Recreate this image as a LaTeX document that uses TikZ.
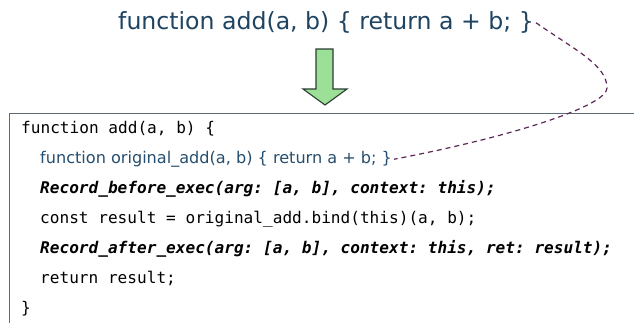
\documentclass[tikz,border=0pt]{standalone}
\usepackage{fontspec}
\setmainfont{DejaVu Sans}
\setmonofont{DejaVu Sans Mono}
\newfontfamily\handfont{DejaVu Sans}
\definecolor{titleblue}{RGB}{31,68,98}
\definecolor{innerblue}{RGB}{38,78,110}
\definecolor{linkpurple}{RGB}{92,40,90}
\definecolor{boxgrey}{RGB}{92,108,120}
\definecolor{arrowgreen}{RGB}{155,224,150}
\definecolor{arrowedge}{RGB}{42,62,52}
\tikzset{
  titletext/.style={anchor=mid west, inner sep=2pt, text=titleblue, font=\handfont\fontsize{23.6}{28}\selectfont},
  codeline/.style={anchor=mid west, inner sep=2pt, text=black, font=\ttfamily\fontsize{16.1}{19}\selectfont},
  bolditline/.style={codeline, font=\ttfamily\bfseries\itshape\fontsize{16.1}{19}\selectfont},
  innerfn/.style={anchor=mid west, inner sep=2pt, text=innerblue, font=\handfont\fontsize{16.1}{19}\selectfont},
  codebox/.style={draw=boxgrey, line width=1.2pt, rectangle, anchor=north west, inner sep=0pt, minimum width=660pt, minimum height=240pt},
  flowarrow/.style={draw=arrowedge, fill=arrowgreen, line width=1.1pt, line join=miter},
  linkline/.style={draw=linkpurple, line width=1.2pt, dash pattern=on 5pt off 4pt}
}
\begin{document}
\begin{tikzpicture}[x=1pt,y=1pt]
\useasboundingbox (0,0) rectangle (634,-322);
\fill[white] (0,0) rectangle (634,-322);
\node[titletext] (title) at (116,-27) {function add(a, b) \{ return a + b; \}};
\node[codebox] (box) at (9,-113) {};
\draw[flowarrow] (316,-49) -- (333,-49) -- (333,-89) -- (347,-89) -- (325,-105) -- (303,-89) -- (316,-89) -- cycle;
\node[codeline] (l1) at (19,-130.7) {function add(a, b) \{};
\node[innerfn] (l2) at (38,-160.7) {function original\_add(a, b) \{ return a + b; \}};
\node[bolditline] (l3) at (38,-190.7) {Record\_before\_exec(arg: [a, b], context: this);};
\node[codeline] (l4) at (38,-220.7) {const result = original\_add.bind(this)(a, b);};
\node[bolditline] (l5) at (38,-250.7) {Record\_after\_exec(arg: [a, b], context: this, ret: result);};
\node[codeline] (l6) at (38,-280.7) {return result;};
\node[codeline] (l7) at (19,-310.7) {\}};
\draw[linkline] (title.east) .. controls (575,-50) and (607,-65) .. (607,-88) .. controls (607,-105) and (520,-135) .. (l2.east);
\end{tikzpicture}
\end{document}
